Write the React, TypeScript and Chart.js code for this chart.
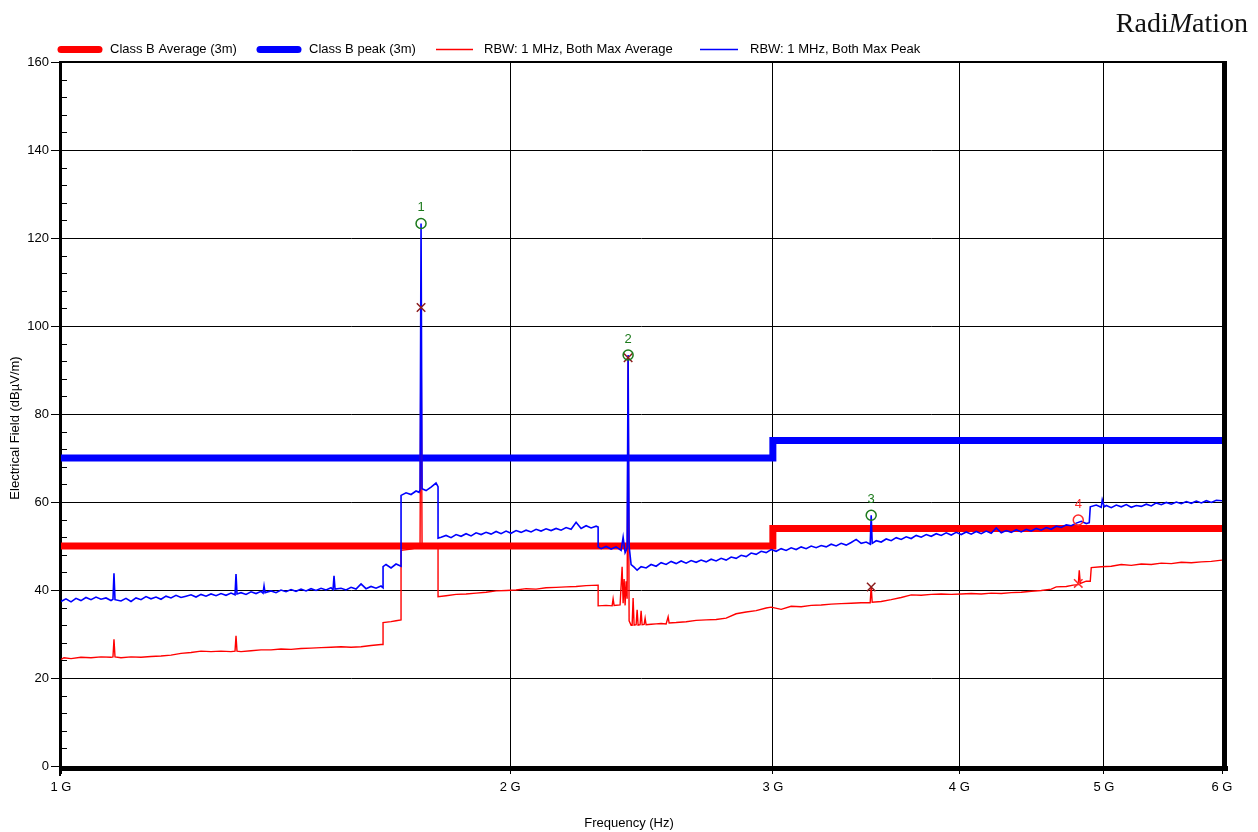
import { useEffect, useRef } from 'react';
import { Chart, registerables } from 'chart.js';

Chart.register(...registerables);

const FONT = "'Liberation Sans', Arial, Helvetica, sans-serif";

// Axis ticks
const xTickValues = [1000, 2000, 3000, 4000, 5000, 6000]; // MHz
const xTickLabels = ['1 G', '2 G', '3 G', '4 G', '5 G', '6 G'];
const yMinorTicks = [4, 8, 12, 16, 24, 28, 32, 36, 44, 48, 52, 56, 64, 68, 72, 76, 84, 88, 92, 96, 104, 108, 112, 116, 124, 128, 132, 136, 144, 148, 152, 156];

const legendLabels = ['Class B Average (3m)', 'Class B peak (3m)', 'RBW: 1 MHz, Both Max Average', 'RBW: 1 MHz, Both Max Peak'];

// Limit lines
const avgLimitFreq = [1000, 3000, 3000, 6000];
const avgLimitVals = [50, 50, 54, 54];
const peakLimitFreq = [1000, 3000, 3000, 6000];
const peakLimitVals = [70, 70, 74, 74];

// RBW: 1 MHz, Both Max Peak (blue)
const peakFreq = [
  1000, 1007.7, 1015.6, 1023.4, 1031.3, 1039.3, 1047.4, 1055.5, 1063.7, 1071.9,
  1080.2, 1083.5, 1085.2, 1086.9, 1097.0, 1105.5, 1114.1, 1122.7, 1131.4, 1140.2,
  1149.0, 1157.9, 1166.9, 1175.9, 1185.0, 1194.2, 1203.5, 1212.8, 1222.2, 1231.7,
  1241.2, 1250.8, 1260.5, 1270.3, 1280.1, 1290.0, 1300.0, 1308.1, 1310.1, 1312.1,
  1320.2, 1330.5, 1340.8, 1351.2, 1361.6, 1365.9, 1368.0, 1370.1, 1382.8, 1393.5,
  1404.3, 1415.2, 1426.2, 1437.2, 1448.4, 1459.6, 1470.9, 1482.3, 1493.8, 1505.4,
  1517.0, 1521.7, 1524.0, 1526.4, 1540.6, 1552.6, 1564.6, 1576.7, 1588.9, 1601.2,
  1613.6, 1626.1, 1638.7, 1643.8, 1643.8, 1651.4, 1664.2, 1677.1, 1690.1, 1690.1,
  1703.2, 1716.4, 1729.7, 1737.8, 1740.4, 1743.1, 1745.8, 1756.6, 1770.2, 1783.9,
  1789.4, 1789.4, 1797.8, 1811.7, 1825.7, 1839.9, 1854.1, 1868.5, 1883.0, 1897.6,
  1912.3, 1927.1, 1942.0, 1957.1, 1972.2, 1987.5, 2002.9, 2018.4, 2034.1, 2049.8,
  2065.7, 2081.7, 2097.8, 2114.1, 2130.5, 2147.0, 2163.6, 2180.4, 2197.3, 2214.3,
  2231.5, 2248.8, 2266.2, 2283.8, 2290.9, 2290.9, 2301.5, 2319.3, 2337.3, 2355.4,
  2373.6, 2381.0, 2388.3, 2395.7, 2399.4, 2403.1, 2410.5, 2421.7, 2433.0, 2448.0,
  2467.0, 2486.1, 2505.4, 2524.8, 2544.4, 2564.1, 2584.0, 2604.0, 2624.2, 2644.5,
  2665.0, 2685.6, 2706.4, 2727.4, 2748.5, 2769.8, 2791.3, 2812.9, 2834.7, 2856.7,
  2878.8, 2901.1, 2923.6, 2946.3, 2969.1, 2992.1, 3015.3, 3038.6, 3062.2, 3085.9,
  3109.8, 3133.9, 3158.2, 3182.7, 3207.4, 3232.2, 3257.3, 3282.5, 3307.9, 3333.5,
  3359.4, 3385.4, 3411.6, 3438.1, 3464.7, 3486.2, 3491.6, 3497.0, 3518.7, 3545.9,
  3573.4, 3601.1, 3629.0, 3657.1, 3685.4, 3714.0, 3742.8, 3771.7, 3801.0, 3830.4,
  3860.1, 3890.0, 3920.2, 3950.6, 3981.2, 4012.0, 4043.1, 4074.4, 4106.0, 4137.8,
  4169.9, 4202.2, 4234.8, 4267.6, 4300.7, 4334.0, 4367.6, 4401.4, 4435.5, 4469.9,
  4504.5, 4539.4, 4574.6, 4610.1, 4645.8, 4681.8, 4718.1, 4754.6, 4791.5, 4828.6,
  4866.0, 4888.6, 4896.2, 4941.7, 4980.0, 4987.7, 5003.1, 5018.6, 5057.5, 5096.7,
  5136.2, 5176.0, 5216.1, 5256.5, 5297.2, 5338.3, 5379.7, 5421.4, 5463.4, 5505.7,
  5548.4, 5591.4, 5634.7, 5678.4, 5722.4, 5766.7, 5811.4, 5856.5, 5901.8, 5947.6,
  6000,
];
const peakVals = [
  37.4, 38.0, 37.3, 38.1, 37.6, 38.3, 37.8, 38.4, 37.9, 38.2,
  37.6, 37.9, 43.8, 37.8, 37.5, 38.1, 37.4, 38.2, 37.8, 38.5,
  38.0, 38.4, 37.9, 38.6, 38.2, 38.8, 38.3, 38.6, 38.9, 38.4,
  39.0, 38.6, 39.1, 38.7, 39.2, 38.8, 39.3, 38.9, 43.6, 39.1,
  39.4, 39.0, 39.6, 39.2, 39.7, 39.3, 40.9, 39.4, 39.8, 39.4,
  40.0, 39.6, 40.1, 39.7, 40.2, 39.8, 40.3, 39.9, 40.4, 40.0,
  40.5, 40.1, 43.2, 40.2, 40.4, 40.0, 40.6, 40.2, 41.4, 40.3,
  40.8, 40.4, 40.9, 40.5, 45.3, 45.8, 45.0, 45.9, 45.4, 61.5,
  62.1, 61.7, 62.5, 62.2, 62.8, 123.3, 63.0, 62.6, 63.4, 64.3,
  63.5, 51.8, 52.0, 52.4, 51.9, 52.6, 52.2, 52.8, 52.3, 53.0,
  52.6, 53.1, 52.7, 53.3, 52.8, 53.4, 52.9, 53.5, 53.1, 53.6,
  53.2, 53.8, 53.4, 53.9, 53.5, 54.0, 53.6, 54.2, 53.8, 55.4,
  54.0, 54.6, 54.1, 54.5, 54.3, 49.8, 49.4, 49.9, 49.3, 49.8,
  49.0, 52.0, 48.5, 49.5, 93.4, 50.0, 45.8, 45.2, 44.5, 45.3,
  45.0, 45.8, 45.4, 46.2, 45.8, 46.5, 46.0, 46.6, 46.1, 46.7,
  46.3, 46.8, 46.4, 47.0, 46.6, 47.2, 46.8, 47.5, 47.2, 47.9,
  47.6, 48.4, 48.1, 48.8, 48.5, 49.2, 48.8, 49.4, 49.0, 49.6,
  49.2, 49.8, 49.4, 50.0, 49.6, 50.1, 49.8, 50.4, 50.0, 50.6,
  50.2, 50.8, 51.5, 50.6, 50.9, 50.4, 57.0, 50.6, 51.2, 50.9,
  51.6, 51.2, 51.9, 51.5, 52.1, 51.7, 52.4, 52.0, 52.6, 52.2,
  52.8, 52.4, 53.0, 52.5, 53.1, 52.6, 53.2, 52.7, 53.3, 52.8,
  53.4, 52.9, 54.1, 53.0, 53.5, 53.1, 53.7, 53.2, 53.8, 53.4,
  54.0, 53.6, 54.2, 53.8, 54.5, 54.2, 54.8, 54.6, 55.2, 55.6,
  55.1, 55.3, 58.9, 59.3, 58.8, 60.5, 58.9, 59.2, 58.7, 59.3,
  58.9, 59.4, 58.8, 59.2, 59.0, 59.5, 59.1, 59.8, 59.4, 59.9,
  59.5, 60.0, 59.6, 60.1, 59.7, 60.2, 59.8, 60.3, 59.9, 60.4,
  60.3,
];

// RBW: 1 MHz, Both Max Average (red)
const avgFreq = [
  1000, 1004.6, 1015.6, 1031.3, 1047.4, 1063.7, 1080.2, 1083.5, 1085.2, 1086.9,
  1097.0, 1114.1, 1131.4, 1149.0, 1166.9, 1185.0, 1203.5, 1222.2, 1241.2, 1260.5,
  1280.1, 1300.0, 1308.1, 1310.1, 1312.1, 1320.2, 1340.8, 1361.6, 1382.8, 1404.3,
  1426.2, 1448.4, 1470.9, 1493.8, 1517.0, 1540.6, 1564.6, 1588.9, 1613.6, 1638.7,
  1643.8, 1643.8, 1664.2, 1677.1, 1690.1, 1690.1, 1716.4, 1740.4, 1743.1, 1745.8,
  1770.2, 1789.4, 1789.4, 1811.7, 1839.9, 1868.5, 1897.6, 1927.1, 1957.1, 1987.5,
  2018.4, 2049.8, 2081.7, 2114.1, 2147.0, 2180.4, 2214.3, 2248.8, 2290.9, 2290.9,
  2319.3, 2340.9, 2344.5, 2348.1, 2369.9, 2377.3, 2381.0, 2384.7, 2388.3, 2392.0,
  2395.7, 2399.4, 2403.1, 2410.5, 2414.3, 2418.0, 2421.7, 2429.3, 2433.0, 2436.7,
  2444.2, 2448.0, 2451.8, 2459.4, 2463.2, 2467.0, 2486.1, 2505.4, 2524.8, 2544.4,
  2552.3, 2556.2, 2584.0, 2624.2, 2665.0, 2706.4, 2748.5, 2791.3, 2834.7, 2878.8,
  2923.6, 2969.1, 2992.1, 3038.6, 3085.9, 3133.9, 3182.7, 3232.2, 3282.5, 3333.5,
  3385.4, 3438.1, 3486.2, 3491.6, 3497.0, 3545.9, 3601.1, 3657.1, 3714.0, 3771.7,
  3830.4, 3890.0, 3950.6, 4012.0, 4074.4, 4137.8, 4202.2, 4267.6, 4334.0, 4401.4,
  4469.9, 4539.4, 4610.1, 4645.8, 4718.1, 4769.3, 4806.3, 4813.7, 4821.2, 4866.0,
  4896.2, 4903.7, 4980.0, 5057.5, 5136.2, 5216.1, 5297.2, 5379.7, 5463.4, 5548.4,
  5634.7, 5722.4, 5811.4, 5901.8, 6000,
];
const avgVals = [
  24.2, 24.6, 24.4, 24.7, 24.6, 24.8, 24.7, 24.8, 28.8, 24.8,
  24.6, 24.8, 24.7, 24.9, 25.0, 25.2, 25.6, 25.8, 26.1, 26.0,
  26.1, 26.0, 26.1, 29.6, 26.1, 26.0, 26.2, 26.4, 26.4, 26.6,
  26.5, 26.7, 26.8, 26.9, 27.0, 27.1, 27.0, 27.1, 27.4, 27.6,
  27.6, 32.6, 32.8, 33.0, 33.2, 49.0, 49.3, 49.8, 104.2, 50.0,
  49.8, 50.0, 38.5, 38.7, 39.0, 39.1, 39.3, 39.5, 39.8, 39.9,
  40.0, 40.3, 40.2, 40.5, 40.6, 40.7, 40.8, 41.0, 41.1, 36.4,
  36.5, 36.4, 38.0, 36.5, 36.6, 45.3, 37.0, 42.5, 36.5, 42.0,
  38.0, 92.8, 33.0, 32.0, 32.0, 38.2, 32.0, 32.1, 35.5, 32.0,
  32.1, 35.3, 32.1, 32.2, 33.6, 32.1, 32.2, 32.3, 32.4, 32.3,
  33.9, 32.5, 32.6, 32.8, 33.1, 33.2, 33.3, 33.6, 34.6, 35.0,
  35.3, 35.9, 36.1, 35.6, 36.3, 36.2, 36.5, 36.6, 36.8, 36.9,
  37.0, 37.1, 37.1, 40.9, 37.2, 37.4, 37.8, 38.3, 38.9, 38.8,
  39.0, 39.1, 39.0, 39.1, 39.2, 39.1, 39.3, 39.2, 39.4, 39.5,
  39.7, 39.9, 40.2, 40.7, 40.8, 41.1, 41.2, 44.5, 41.5, 42.0,
  42.0, 45.1, 45.3, 45.4, 45.8, 45.6, 45.9, 45.8, 46.1, 46.0,
  46.3, 46.2, 46.4, 46.5, 46.8,
];

// Markers
const markerFreq = [1743.1, 2399.4, 3491.6, 4806.3];
const markerPeakVals = [123.3, 93.4, 57.0, 55.9];
const markerAvgVals = [104.2, 92.8, 40.7, 41.5];
const markerLabels = ['1', '2', '3', '4'];
const markerCircleColors = ['#1c7a1c', '#1c7a1c', '#1c7a1c', '#ff2a2a'];
const markerCrossColors = ['#8b1c1c', '#8b1c1c', '#8b1c1c', '#ff2a2a'];

const RED = '#ff0000';
const BLUE = '#0000ff';

const pts = (xs: number[], ys: number[]) => xs.map((x, i) => ({ x, y: ys[i] }));

const decorPlugin = {
  id: 'decor',
  afterDraw(chart: any) {
    const { ctx, chartArea: a, scales } = chart;
    const xs = scales.x;
    const ys = scales.y;
    ctx.save();

    // minor ticks on the left axis, inward
    ctx.strokeStyle = '#000';
    ctx.lineWidth = 1;
    for (const v of yMinorTicks) {
      const py = Math.round(ys.getPixelForValue(v)) + 0.5;
      ctx.beginPath();
      ctx.moveTo(a.left, py);
      ctx.lineTo(a.left + 6, py);
      ctx.stroke();
    }

    // frame
    ctx.fillStyle = '#000';
    ctx.fillRect(a.left - 2, a.top - 1, a.right - a.left + 2, 2);
    ctx.fillRect(a.left - 2, a.top - 1, 2, a.bottom - a.top + 11);
    ctx.fillRect(a.left + 1, a.bottom, a.right - a.left + 5, 5);
    ctx.fillRect(a.right, a.top - 1, 5, a.bottom - a.top + 6);

    // marker labels
    ctx.font = `13px ${FONT}`;
    ctx.textAlign = 'center';
    ctx.textBaseline = 'middle';
    markerFreq.forEach((f, i) => {
      ctx.fillStyle = markerCircleColors[i];
      ctx.fillText(markerLabels[i], xs.getPixelForValue(f), ys.getPixelForValue(markerPeakVals[i]) - 16);
    });

    // legend
    const items = [
      { x1: 58, x2: 102, tx: 110, color: RED, w: 7 },
      { x1: 257, x2: 301, tx: 309, color: BLUE, w: 7 },
      { x1: 436, x2: 473, tx: 484, color: RED, w: 1.5 },
      { x1: 700, x2: 738, tx: 750, color: BLUE, w: 1.5 },
    ];
    const ly = 49.5;
    items.forEach((it, i) => {
      ctx.strokeStyle = it.color;
      ctx.lineWidth = it.w;
      ctx.lineCap = it.w > 3 ? 'round' : 'butt';
      ctx.beginPath();
      ctx.moveTo(it.x1 + (it.w > 3 ? 3 : 0), ly);
      ctx.lineTo(it.x2 - (it.w > 3 ? 3 : 0), ly);
      ctx.stroke();
      ctx.fillStyle = '#000';
      ctx.textAlign = 'left';
      ctx.fillText(legendLabels[i], it.tx, ly);
    });

    // axis titles
    ctx.fillStyle = '#000';
    ctx.textAlign = 'center';
    ctx.fillText('Frequency (Hz)', 629, 823);
    ctx.save();
    ctx.translate(15, 428);
    ctx.rotate(-Math.PI / 2);
    ctx.fillText('Electrical Field (dBµV/m)', 0, 0);
    ctx.restore();

    // logo
    const serif = "'Liberation Serif', 'Times New Roman', serif";
    const parts = [
      { t: 'Radi', f: `28px ${serif}` },
      { t: 'M', f: `italic 28px ${serif}` },
      { t: 'ation', f: `28px ${serif}` },
    ];
    let total = 0;
    parts.forEach((p) => { ctx.font = p.f; total += ctx.measureText(p.t).width; });
    let lx = 1248 - total;
    ctx.textAlign = 'left';
    ctx.textBaseline = 'alphabetic';
    ctx.fillStyle = '#111';
    parts.forEach((p) => { ctx.font = p.f; ctx.fillText(p.t, lx, 31.5); lx += ctx.measureText(p.t).width; });

    ctx.restore();
  },
};

export default function App() {
  const canvasRef = useRef<HTMLCanvasElement | null>(null);

  useEffect(() => {
    const canvas = canvasRef.current;
    if (!canvas) return;
    Chart.defaults.font.family = FONT;
    Chart.defaults.font.size = 13;
    Chart.defaults.color = '#000';

    const chart = new Chart(canvas, {
      type: 'line',
      data: {
        datasets: [
          {
            label: 'Peak markers',
            data: pts(markerFreq, markerPeakVals),
            showLine: false,
            pointStyle: 'circle',
            pointRadius: 5,
            pointBorderWidth: 1.5,
            pointBorderColor: markerCircleColors,
            pointBackgroundColor: 'rgba(0,0,0,0)',
            order: 0,
          },
          {
            label: 'Average markers',
            data: pts(markerFreq, markerAvgVals),
            showLine: false,
            pointStyle: 'crossRot',
            pointRadius: 6,
            pointBorderWidth: 1.5,
            pointBorderColor: markerCrossColors,
            order: 0,
          },
          {
            label: legendLabels[3],
            data: pts(peakFreq, peakVals),
            borderColor: BLUE,
            borderWidth: 1.6,
            pointRadius: 0,
            tension: 0,
            order: 1,
          },
          {
            label: legendLabels[2],
            data: pts(avgFreq, avgVals),
            borderColor: RED,
            borderWidth: 1.4,
            pointRadius: 0,
            tension: 0,
            order: 2,
          },
          {
            label: legendLabels[1],
            data: pts(peakLimitFreq, peakLimitVals),
            borderColor: BLUE,
            borderWidth: 7,
            pointRadius: 0,
            tension: 0,
            order: 3,
          },
          {
            label: legendLabels[0],
            data: pts(avgLimitFreq, avgLimitVals),
            borderColor: RED,
            borderWidth: 7,
            pointRadius: 0,
            tension: 0,
            order: 4,
          },
        ],
      },
      options: {
        animation: false,
        responsive: false,
        devicePixelRatio: 1,
        events: [],
        layout: { padding: { left: 0, right: 36, top: 62, bottom: 0 } },
        plugins: {
          legend: { display: false },
          tooltip: { enabled: false },
          title: { display: false },
        },
        scales: {
          x: {
            type: 'logarithmic',
            min: 1000,
            max: 6000,
            afterBuildTicks: (s: any) => {
              s.ticks = xTickValues.map((v) => ({ value: v }));
            },
            afterFit: (s: any) => {
              s.height = 66;
            },
            ticks: {
              autoSkip: false,
              maxRotation: 0,
              padding: 6,
              color: '#000',
              font: { size: 13, family: FONT },
              callback: (v: any) => {
                const idx = xTickValues.indexOf(Number(v));
                return idx >= 0 ? xTickLabels[idx] : '';
              },
            },
            grid: { color: '#000', lineWidth: 1, tickLength: 8, drawTicks: true },
            border: { display: false },
          },
          y: {
            type: 'linear',
            min: 0,
            max: 160,
            afterFit: (s: any) => {
              s.width = 61;
            },
            ticks: { stepSize: 20, padding: 2, color: '#000', font: { size: 13, family: FONT } },
            grid: { color: '#000', lineWidth: 1, tickLength: 10, drawTicks: true },
            border: { display: false },
          },
        },
      },
      plugins: [decorPlugin],
    } as any);

    return () => chart.destroy();
  }, []);

  return (
    <div style={{ position: 'absolute', left: 0, top: 0, width: 1258, height: 832, background: '#fff' }}>
      <canvas ref={canvasRef} width={1258} height={832} style={{ width: 1258, height: 832, display: 'block' }} />
    </div>
  );
}
